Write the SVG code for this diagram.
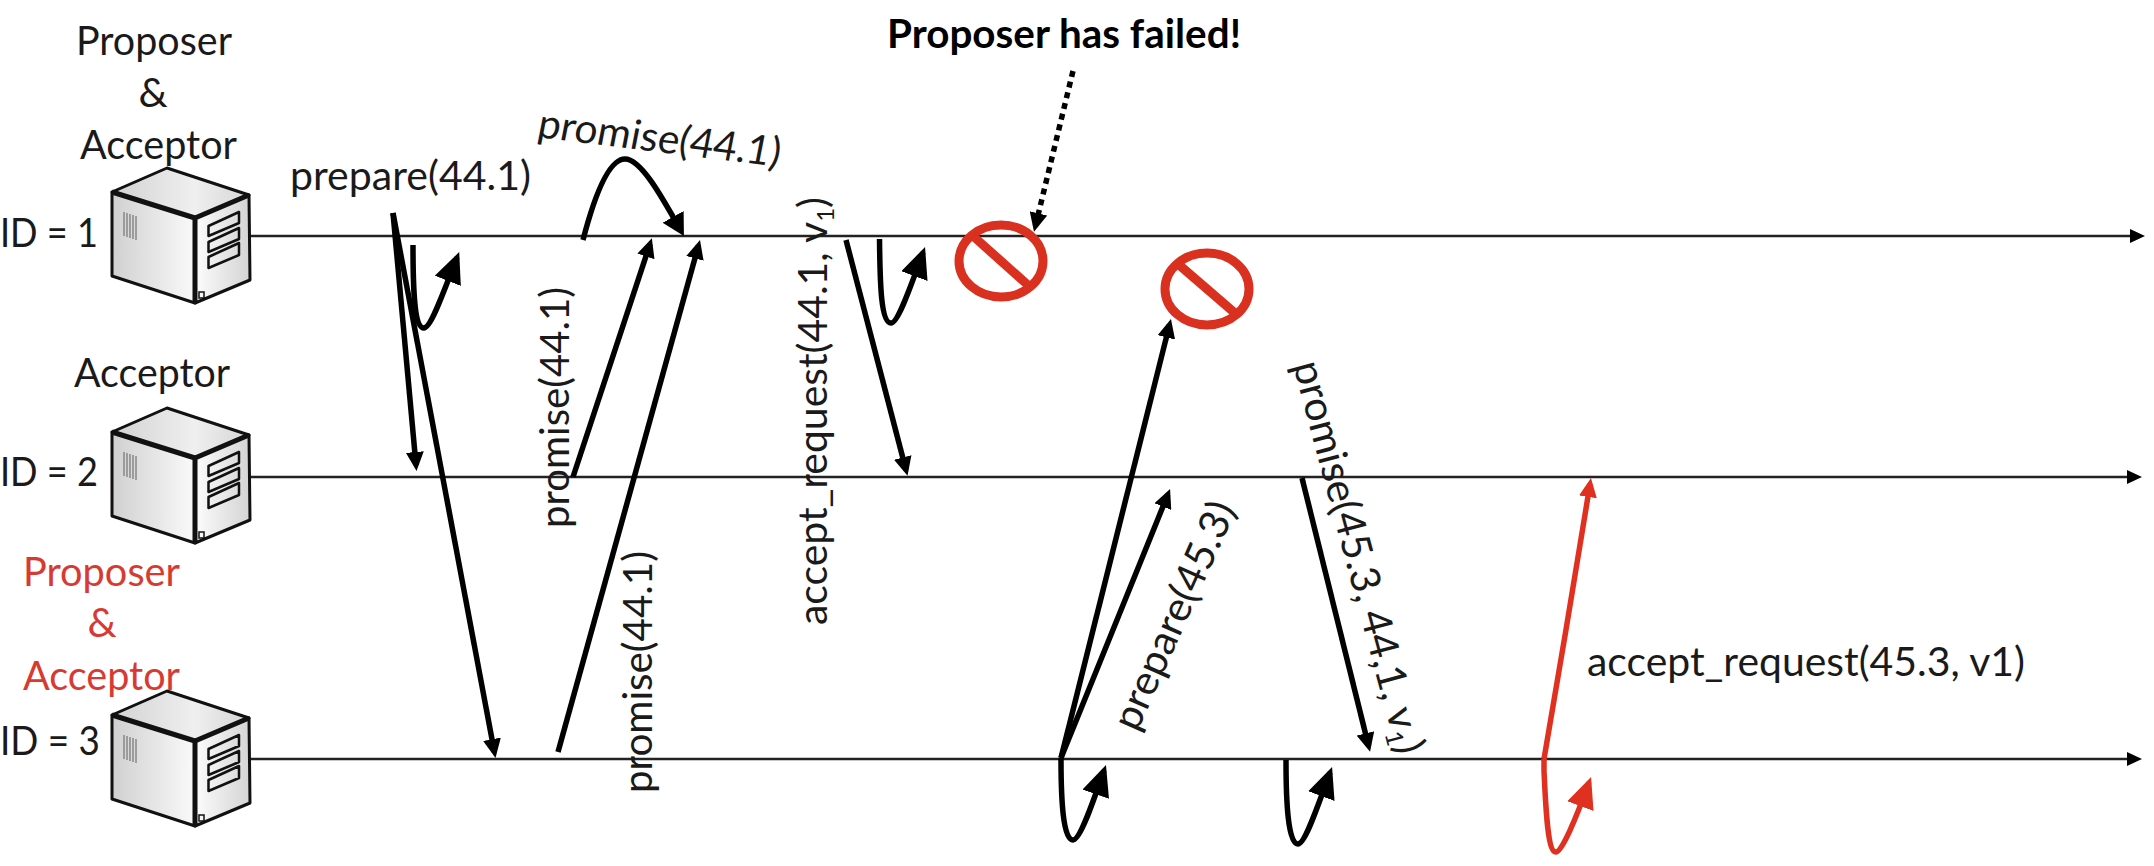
<svg xmlns="http://www.w3.org/2000/svg" xmlns:xlink="http://www.w3.org/1999/xlink" width="2154" height="866" viewBox="0 0 2154 866">
<style>
text{font-family:"Lato","Liberation Sans",sans-serif;font-size:41px;fill:#1a1a1a}
.red{fill:#d83a32}
.b{font-weight:700;fill:#000}
.tline{fill:none;stroke:#222;stroke-width:2.6}
.a{fill:none;stroke:#000;stroke-width:5.500;stroke-linecap:butt}
.sign{fill:none;stroke:#d9301f;stroke-width:9}
.s{stroke:#111;stroke-linejoin:round}
</style>
<defs>
<linearGradient id="gt" x1="0" y1="0" x2="1" y2="0"><stop offset="0" stop-color="#d2d2d2"/><stop offset=".6" stop-color="#efefef"/><stop offset="1" stop-color="#d6d6d6"/></linearGradient>
<linearGradient id="gl" x1="0" y1="0" x2="1" y2="0"><stop offset="0" stop-color="#d0d0d0"/><stop offset="1" stop-color="#fafafa"/></linearGradient>
<linearGradient id="gr" x1="0" y1="0" x2="1" y2="0"><stop offset="0" stop-color="#fcfcfc"/><stop offset="1" stop-color="#d4d4d4"/></linearGradient>
<marker id="hs" markerUnits="userSpaceOnUse" markerWidth="19" markerHeight="18" refX="13" refY="9" orient="auto"><path d="M0 0L19 9L0 18z" fill="#000"/></marker>
<marker id="hm" markerUnits="userSpaceOnUse" markerWidth="22" markerHeight="24" refX="16" refY="12" orient="auto"><path d="M0 0L22 12L0 24z" fill="#000"/></marker>
<marker id="hl" markerUnits="userSpaceOnUse" markerWidth="31" markerHeight="28" refX="25" refY="14" orient="auto"><path d="M0 0L31 14L0 28z" fill="#000"/></marker>
<marker id="hrs" markerUnits="userSpaceOnUse" markerWidth="19" markerHeight="18" refX="13" refY="9" orient="auto"><path d="M0 0L19 9L0 18z" fill="#e03020"/></marker>
<marker id="hrl" markerUnits="userSpaceOnUse" markerWidth="31" markerHeight="28" refX="25" refY="14" orient="auto"><path d="M0 0L31 14L0 28z" fill="#e03020"/></marker>
<marker id="hz" markerUnits="userSpaceOnUse" markerWidth="15" markerHeight="14" refX="8" refY="7" orient="auto"><path d="M0 0L15 7L0 14z" fill="#000"/></marker>
<g id="server">
<path d="M167 168L112 192L195 218L249 195z" fill="url(#gt)" class="s" stroke-width="3"/>
<path d="M112 192L195 218L195 303L112 276z" fill="url(#gl)" class="s" stroke-width="3"/>
<path d="M195 218L249 195L250 280L195 303z" fill="url(#gr)" class="s" stroke-width="3"/>
<path d="M112 192L195 218L249 195M195 218V303" fill="none" class="s" stroke-width="5"/>
<path d="M208.500 226L239 212V223L208.500 236zM208.500 242L239 228V239L208.500 252zM208.500 257L239 243V255L208.500 268z" fill="none" class="s" stroke-width="2.500"/>
<path d="M124 212V236M127 213V237M130 214V238M133 215V239M136 216V240" stroke="#888" stroke-width="1.500" fill="none"/>
<rect x="199" y="292" width="5" height="6" fill="none" stroke="#111" stroke-width="1.500"/>
</g>
</defs>
<rect width="2154" height="866" fill="#fff"/>
<g id="connectors">
<path class="tline" d="M250 236H2138" marker-end="url(#hz)"/>
<path class="tline" d="M250 477H2135" marker-end="url(#hz)"/>
<path class="tline" d="M250 759H2135" marker-end="url(#hz)"/>
<path class="a" d="M393 213L416 465" marker-end="url(#hs)"/>
<path class="a" d="M393 213L494.400 752" marker-end="url(#hs)"/>
<path class="a" d="M413 245C413 290 414 328 424 328C431 328 443 293 457 257.600" marker-end="url(#hl)"/>
<path class="a" d="M583 240C596 190 610 159 625 159C641 159 662 197 681 230.800" marker-end="url(#hm)"/>
<path class="a" d="M573 477L650 244" marker-end="url(#hs)"/>
<path class="a" d="M558 752L698.400 245.800" marker-end="url(#hs)"/>
<path class="a" d="M846 240L906 470" marker-end="url(#hs)"/>
<path class="a" d="M879.500 239C880 285 881 323 891 323C898 323 910 288 923 252.600" marker-end="url(#hl)"/>
<path class="a" d="M1073 71L1035.400 226" stroke-dasharray="6 5" marker-end="url(#hs)"/>
<path class="a" d="M1061 758L1169.500 324.800" marker-end="url(#hs)"/>
<path class="a" d="M1061 758L1167.800 494.600" marker-end="url(#hs)"/>
<path class="a" d="M1061 758C1061 800 1063 840 1073 840C1080 840 1092 805 1104 770.600" marker-end="url(#hl)"/>
<path class="a" d="M1286 760C1286 802 1288 844 1298 844C1305 844 1317 808 1330 772.600" marker-end="url(#hl)"/>
<path class="a" d="M1302 478L1368.600 746" marker-end="url(#hs)"/>
<path class="a" style="stroke:#e03020" d="M1544 759Q1568 620 1590 484" marker-end="url(#hrs)"/>
<path class="a" style="stroke:#e03020" d="M1544 759V771C1546 815 1548 852 1556 852C1562 852 1576 818 1589 782.600" marker-end="url(#hrl)"/>
</g>
<g id="node-1"><use xlink:href="#server" href="#server"/>
<text x="76" y="55" textLength="156" lengthAdjust="spacingAndGlyphs">Proposer</text>
<text x="153" y="107" text-anchor="middle">&amp;</text>
<text x="80" y="159" textLength="157" lengthAdjust="spacingAndGlyphs">Acceptor</text>
<text x="0" y="247" textLength="98" lengthAdjust="spacingAndGlyphs">ID = 1</text></g>
<g id="node-2"><use xlink:href="#server" href="#server" y="240"/>
<text x="74" y="387" textLength="156" lengthAdjust="spacingAndGlyphs">Acceptor</text>
<text x="0" y="486" textLength="98" lengthAdjust="spacingAndGlyphs">ID = 2</text></g>
<g id="node-3"><use xlink:href="#server" href="#server" y="523"/>
<text class="red" x="23" y="586" textLength="157" lengthAdjust="spacingAndGlyphs">Proposer</text>
<text class="red" x="102" y="637" text-anchor="middle">&amp;</text>
<text class="red" x="23" y="690" textLength="157" lengthAdjust="spacingAndGlyphs">Acceptor</text>
<text x="0" y="755" textLength="100" lengthAdjust="spacingAndGlyphs">ID = 3</text></g>
<g id="fail-1"><ellipse class="sign" cx="1001" cy="261" rx="42" ry="36"/><path class="sign" d="M973 236L1029 286"/></g>
<g id="fail-2"><ellipse class="sign" cx="1207" cy="289" rx="42" ry="36"/><path class="sign" d="M1178 264L1236 314"/></g>
<g id="labels">
<text class="b" x="887" y="48" textLength="354" lengthAdjust="spacingAndGlyphs">Proposer has failed!</text>
<text x="290" y="190" textLength="241" lengthAdjust="spacingAndGlyphs">prepare(44.1)</text>
<text transform="translate(536,137) rotate(7) skewX(-4)" textLength="244" lengthAdjust="spacingAndGlyphs">promise(44.1)</text>
<text transform="translate(569,528) rotate(-90)" textLength="241" lengthAdjust="spacingAndGlyphs">promise(44.1)</text>
<text transform="translate(652,793) rotate(-90)" textLength="242" lengthAdjust="spacingAndGlyphs">promise(44.1)</text>
<text transform="translate(827,625) rotate(-90)" textLength="428" lengthAdjust="spacingAndGlyphs">accept_request(44.1, v<tspan font-size="24" dy="7">1</tspan><tspan dy="-7">)</tspan></text>
<text transform="translate(1137,733) rotate(-66)" textLength="245" lengthAdjust="spacingAndGlyphs">prepare(45.3)</text>
<text transform="translate(1293,365) rotate(75)" textLength="405" lengthAdjust="spacingAndGlyphs">promise(45.3, 44,1, v<tspan font-size="24" dy="7">1</tspan><tspan dy="-7">)</tspan></text>
<text x="1587" y="676" textLength="438" lengthAdjust="spacingAndGlyphs">accept_request(45.3, v1)</text>
</g>
</svg>
